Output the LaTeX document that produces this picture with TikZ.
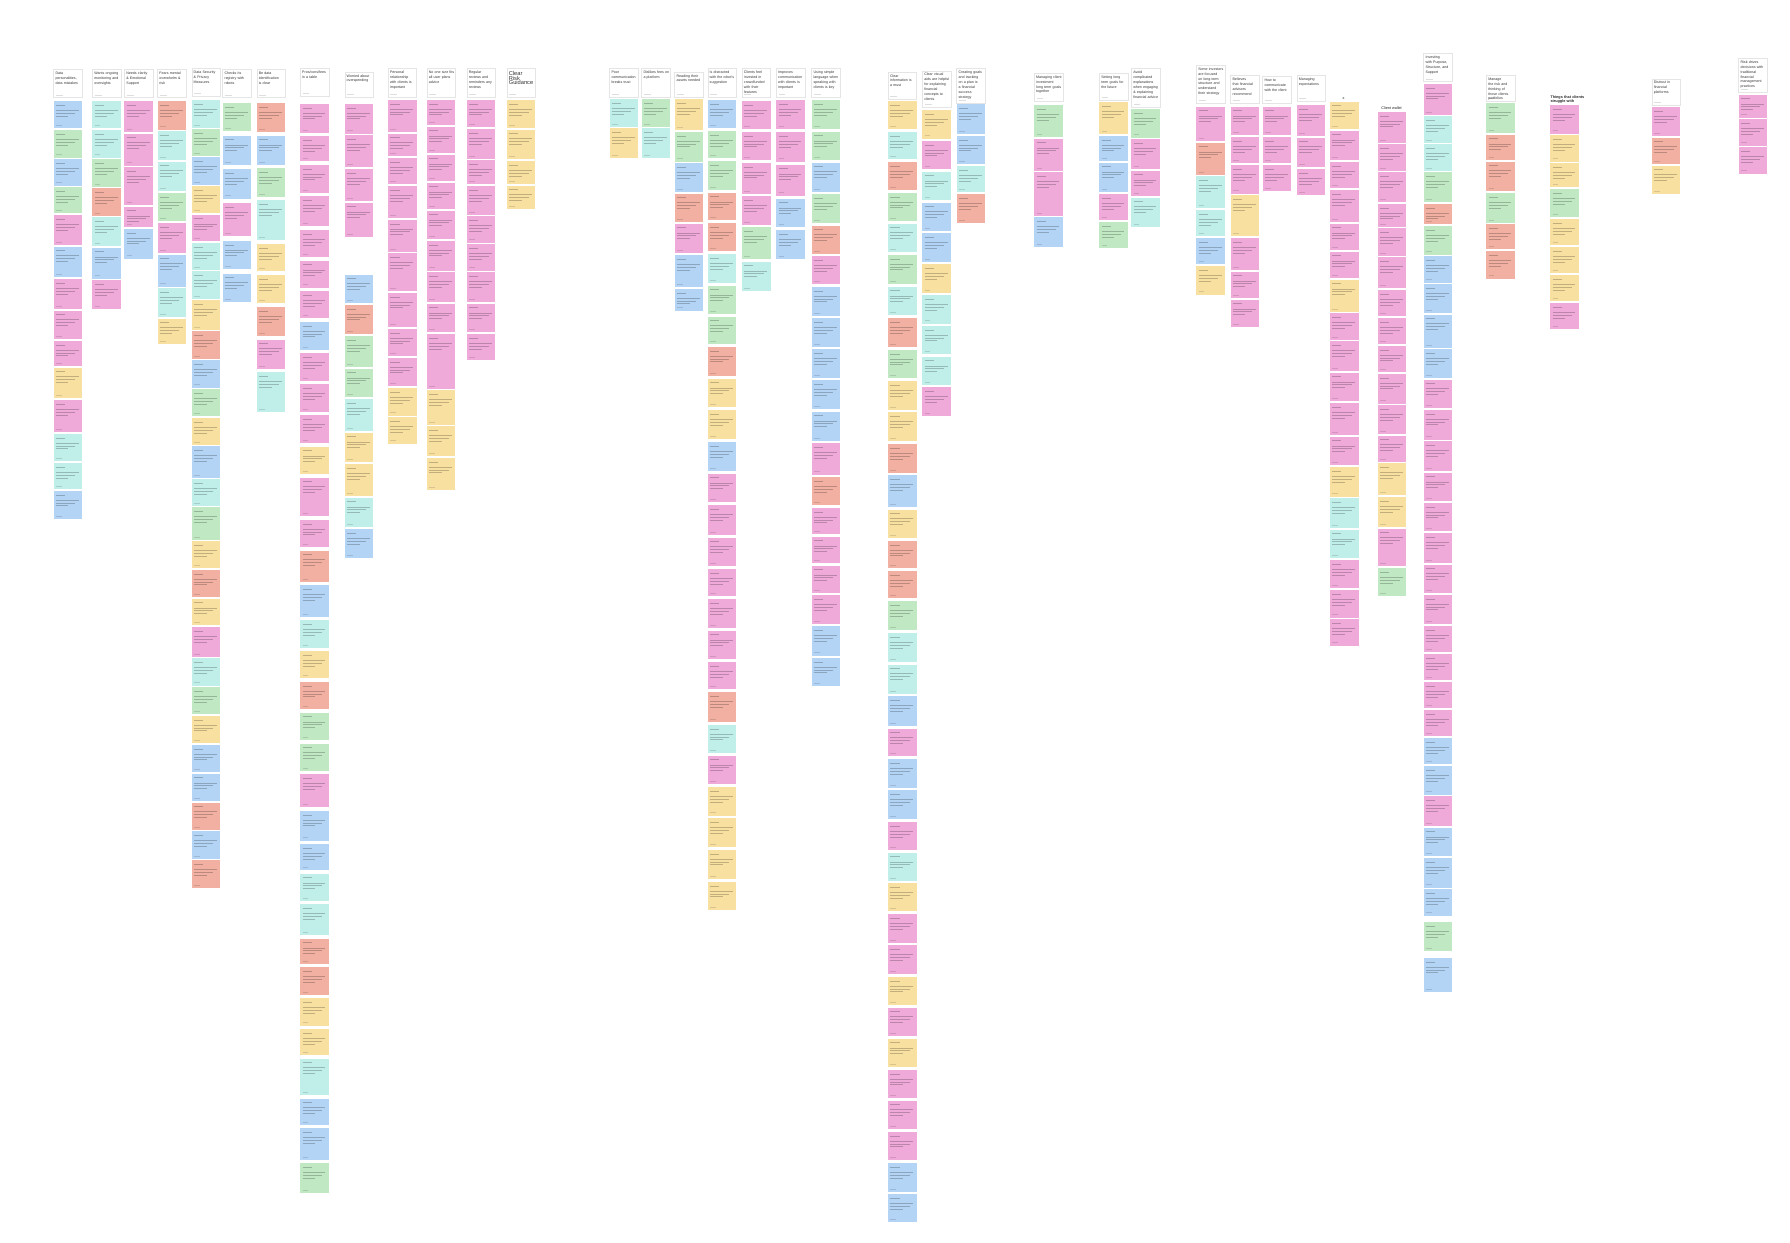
\documentclass[tikz,border=0pt]{standalone}
\usepackage{fontspec}
\setmainfont{Liberation Sans}
\hyphenpenalty=10000
\exhyphenpenalty=10000
\definecolor{nB}{HTML}{B4D4F6}
\definecolor{nG}{HTML}{BFE8C3}
\definecolor{nP}{HTML}{F0AADA}
\definecolor{nS}{HTML}{F2B0A2}
\definecolor{nY}{HTML}{F8E0A0}
\definecolor{nC}{HTML}{C0EEE9}
\tikzset{
 card/.style={fill=white, draw=black!10, line width=0.4pt},
 htxt/.style={inner sep=0pt, text width=22.5pt, align=left, font=\fontsize{3.15}{4.3}\selectfont, text=black!80},
 lbl/.style={inner sep=0pt, align=left, font=\fontsize{3.3}{4.2}\selectfont, text=black!85},
 txtline/.style={line width=0.45pt, draw=black, draw opacity=0.22},
 footline/.style={line width=0.45pt, draw=black, draw opacity=0.13},
}
% \stk{x}{ytop}{gap}{colour/height list}
\newcommand\stk[4]{%
 \xdef\cury{#2}%
 \foreach \cc/\hh in {#4}{%
  \if\cc N\else
   \fill[fill=n\cc] (#1,\cury) rectangle ({#1+25},{\cury+\hh});
   \draw[txtline] ({#1+2},{\cury+3.5}) -- ++(8,0);
   \ifdim\hh pt>15pt
   \draw[txtline] ({#1+2},{\cury+8}) -- ++(20,0) ({#1+2},{\cury+10.5}) -- ++(17,0) ({#1+2},{\cury+13}) -- ++(11,0);
   \fi
   \draw[footline] ({#1+2},{\cury+\hh-2.5}) -- ++(5,0);
  \fi
  \pgfmathparse{\cury+\hh+#3}\xdef\cury{\pgfmathresult}%
 }}
\newcommand\hdr[5]{%
 \draw[card] (#2,#3) rectangle ({#2+25},#4);
 \node[htxt, anchor=north west] (#1) at ({#2+1.5},{#3+2}) {#5};
 \draw[footline] ({#2+2},{#4-2.5}) -- ++(6,0);
}
\begin{document}
\begin{tikzpicture}[x=1pt,y=-1pt]
\fill[white] (0,0) rectangle (1568,1088);
\useasboundingbox (0,0) rectangle (1568,1088);

% ---- column 1
\hdr{h1}{47}{61}{85.5}{Data personalities, data mistakes}
\stk{47}{88.5}{1.5}{B/24,G/24,B/23,G/23,P/26,B/27,P/26,P/25,P/22,Y/27,P/28,C/24,C/23,B/25}
% ---- column 2
\hdr{h2}{81}{61}{85.5}{Wants ongoing monitoring and oversights}
\stk{81}{88.5}{1.5}{C/24,C/24,G/24,S/24,C/25,B/27,P/25}
% ---- column 3
\hdr{h3}{109}{61}{85.5}{Needs clarity \& Emotional Support}
\stk{109}{88.5}{1.5}{P/27,P/28,P/33,P/18,B/26}
% ---- column 4
\hdr{h4}{138}{61}{85.5}{Fears mental overwhelm \& risk}
\stk{138}{88.5}{1.5}{S/25,C/25,C/26,G/25,P/26,B/28,C/25,Y/22}
% ---- column 5
\hdr{h5}{168}{60}{84}{Data Security \& Privacy Measures}
\stk{168}{87.8}{1.3}{C/24,G/23.5,B/24,Y/23.5,P/23.5,C/23.5,C/24,Y/26,S/24,B/24,G/24,Y/23.5,B/27.5,C/23.5,G/28.5,Y/23.5,S/24,Y/23.5,P/26,C/24,G/24,Y/24,B/24,B/24,S/24,B/24,S/24}
% ---- column 6
\hdr{h6}{195}{61}{85.5}{Checks its registry with robots}
\stk{195}{90.6}{4.2}{G/24,B/25.4,B/25.5,P/28.6,B/24.5,B/24.8}
% ---- column 7
\hdr{h7}{225}{61}{85.5}{Be data identification is clear}
\stk{225}{90.6}{3.2}{S/25,B/25.4,G/25,C/35,Y/24,Y/24.8,S/25.2,P/25.5,C/34.7}
% ---- column 8
\hdr{h8}{263}{60}{84}{Pros/cons/fees in a table}
\stk{263}{90.9}{3}{P/25.5,P/22,P/24.5,P/26.5,P/24,P/23.5,P/24,B/24.4,P/24.5,P/24,P/24.5,Y/24,P/34,P/24,S/27.5,B/27.5,C/24,Y/24,S/24,G/24,G/24,P/29,B/26,B/23,C/24,C/27,S/22,S/24,Y/24,Y/23,C/32,B/23,B/27.5,G/26.5}
% ---- column 9
\hdr{h9}{302}{63}{85}{Worried about overspending}
\stk{302}{91}{1.5}{P/26,P/28,P/28,P/30,N/30,B/25,S/26,G/27,G/25,C/28,Y/26,Y/28,C/26,B/25}
% ---- column 10
\hdr{h10}{340}{60}{85}{Personal relationship with clients is important}
\stk{340}{87.5}{1.5}{P/28,P/20,P/23,P/28,P/28,P/33,P/30,P/24,P/25,Y/24,Y/23}
% ---- column 11
\hdr{h11}{374}{60}{85}{No one size fits all user plans advice}
\stk{374}{87.5}{1.5}{P/22,P/23,P/23,P/23,P/25,P/26,P/26,P/25,P/48,Y/30,Y/26,Y/28}
% ---- column 12
\hdr{h12}{409}{60}{85}{Regular reviews and reminders any reviews}
\stk{409}{87.5}{1.5}{P/24,P/26,P/21,P/25,P/23,P/23,P/26,P/25,P/23}
% ---- column 13
\hdr{h13}{444}{60}{85}{\fontsize{5}{6.2}\selectfont Clear Risk Guidance}
\stk{444}{88}{1.5}{Y/24,Y/26,Y/20,Y/21}
% ---- column 14
\hdr{h14}{534}{60}{85}{Poor communication breaks trust}
\stk{534}{87}{1.5}{C/24,Y/26}
% ---- column 15
\hdr{h15}{562}{60}{85}{Dislikes fees on a platform}
\stk{562}{87}{1.5}{G/24,C/26}
% ---- column 16
\hdr{h16}{591}{63}{85}{Reading their assets needed}
\stk{591}{87}{1.5}{Y/27,G/26,B/25,S/25,P/26,B/28,B/19}
% ---- column 17
\hdr{h17}{620}{60}{85}{Is distracted with the robot's suggestion}
\stk{620}{87.8}{2.5}{B/24.5,G/24,G/25,S/24,S/25,C/25,G/24.5,G/24,S/25.4,Y/25,Y/25.5,B/25.2,P/25,P/26,P/25,P/24,P/25,P/25,P/24,S/26,C/24.5,P/25,Y/25,Y/25,Y/25.5,Y/24.5}
% ---- column 18
\hdr{h18}{650}{60}{85}{Clients feel invested in crowdfunded with their features}
\stk{650}{88.4}{2.3}{P/24.8,P/24.8,P/27,P/25,G/27.7,C/25.5}
% ---- column 19
\hdr{h19}{680}{60}{85}{Improves communication with clients is important}
\stk{680}{87.8}{2.8}{P/25.4,P/25.5,P/27,B/24.8,B/25.5}
% ---- column 20
\hdr{h20}{711}{60}{85}{Using simple language when speaking with clients is key}
\stk{711}{87.8}{2.1}{G/25.4,G/25,B/25.5,G/25.5,S/24.6,P/24.8,B/25.5,B/25,B/25,B/25.5,B/25.5,P/27.5,S/24.9,P/23.2,P/23.3,P/24,P/25,B/25.5,B/25}
% ---- column 21
\hdr{h21}{778}{63}{87}{Clear information is a must}
\stk{778}{88.4}{2.4}{Y/24.8,C/24,S/24.5,G/24.5,C/25,G/25.5,C/25,S/25.5,G/25,Y/25,Y/25.5,S/25,B/27.5,Y/25,S/24,S/24,G/25.5,C/25.2,C/25.5,B/25.8,P/24.2,B/25.2,B/25.2,P/24.5,C/24.5,Y/24.5,P/25,P/25.2,Y/24.5,P/24.8,Y/25,P/24.5,P/25,P/25,B/25,B/24.5}
% ---- column 22
\hdr{h22}{808}{62}{94}{Clear visual aids are helpful for explaining financial concepts to clients}
\stk{808}{96.4}{2}{Y/25,P/25,C/25,B/25,B/25,Y/25,C/25,C/25,C/25,P/25}
% ---- column 23
\hdr{h23}{838}{60}{90}{Creating goals and tracking on a plan is a financial success strategy}
\stk{838}{91.5}{1.5}{B/26,B/25,C/23,S/25}
% ---- column 24
\hdr{h24}{906}{64}{89}{Managing client investment long term goals together}
\stk{906}{92}{1.5}{G/28,P/28,P/38,B/26}
% ---- column 25
\hdr{h25}{963}{64}{88}{Setting long term goals for the future}
\stk{963}{89.5}{1.5}{Y/28,B/22,B/26,P/23,G/23}
% ---- column 26
\hdr{h26}{991}{60}{93.5}{Avoid complicated explanations when engaging \& explaining financial advice}
\stk{991}{95.5}{1.5}{G/25,P/26,P/22,C/26}
% ---- column 27
\hdr{h27}{1048}{57}{90}{Some investors are focused on long-term structure and understand their strategy}
\stk{1048}{93.5}{1.5}{P/30,S/28,C/28,C/23,B/23,Y/25}
% ---- column 28
\hdr{h28}{1078}{66}{90}{Believes that financial advisors recommend}
\stk{1078}{93.5}{1.5}{P/25,P/23,P/25,Y/36,P/28,P/23,P/24}
% ---- column 29
\hdr{h29}{1106}{67}{90}{How to communicate with the client}
\stk{1106}{93.5}{1.5}{P/25,P/23,P/23}
% ---- column 30
\hdr{h30}{1136}{66}{89}{Managing expectations}
\stk{1136}{92}{1.5}{P/27,P/26,P/23}
% ---- column 31
\node[lbl] (h31) at (1177,86) {x};
\stk{1165}{89}{1.5}{Y/24,P/26,P/23,P/28,P/23,P/23,Y/28,P/23,P/26,P/25,P/28,P/25,Y/26,C/26,C/25,P/25,P/24,P/23}
% ---- column 32
\node[lbl] (h32) at (1219,95) {Client wallet};
\stk{1207}{98}{1.5}{P/27,P/23,P/26,P/20,P/24,P/27,P/23,P/23,P/23,P/26,P/25,P/23,Y/28,Y/26,P/33,G/25}
% ---- column 33
\hdr{h33}{1247}{47}{71.5}{Investing with Purpose, Structure, and Support}
\stk{1247}{73.5}{1.5}{P/27,C/23,C/23,G/26,S/18,G/25,B/23,B/25,B/29,B/25,P/25,P/26,P/26,P/25,P/25,P/26,P/25,P/26,P/23,P/23,P/23,P/23,B/23,B/25,P/26,B/25,B/26,B/23,N/3,G/25,N/3,B/30}
% ---- column 34
\hdr{h34}{1302}{66}{89}{Manage the risk and thinking of those clients portfolios}
\stk{1302}{90.5}{1.5}{G/26,S/22,S/26,G/26,S/22,S/24}
% ---- column 35
\node[lbl, anchor=south west, font=\bfseries\fontsize{3.3}{4.2}\selectfont, text width=30pt] (h35) at (1358,91) {Things that clients struggle with};
\stk{1358}{92}{1.5}{P/25,Y/23,Y/21,G/25,Y/23,Y/23,Y/23,P/23}
% ---- column 36
\hdr{h36}{1447}{69}{92}{Distrust in financial platforms}
\stk{1447}{94}{1.5}{P/25,S/23,Y/25}
% ---- column 37
\hdr{h37}{1523}{51}{81}{Risk drives decisions with traditional financial management practices}
\stk{1523}{83}{1.5}{P/20,P/23,P/23}
\end{tikzpicture}
\end{document}
